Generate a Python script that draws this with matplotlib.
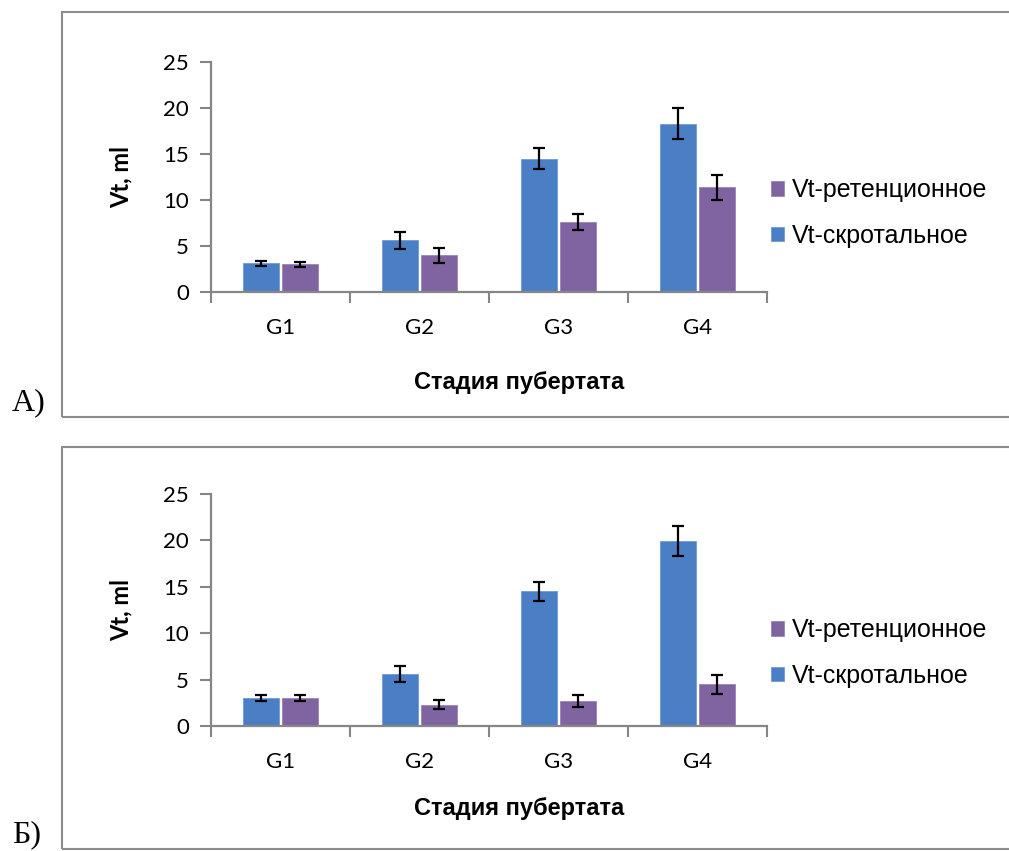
import matplotlib
matplotlib.use("Agg")
import matplotlib.pyplot as plt
from matplotlib.patches import Rectangle
import numpy as np

# ------------------ data ------------------ #
stages = ["G1", "G2", "G3", "G4"]

# panel A
scrotal_a = [3.1, 5.6, 14.5, 18.3]
scrotal_a_err = [0.3, 0.9, 1.1, 1.7]
retent_a = [3.0, 4.0, 7.6, 11.4]
retent_a_err = [0.3, 0.8, 0.9, 1.35]

# panel B
scrotal_b = [3.0, 5.6, 14.5, 19.9]
scrotal_b_err = [0.3, 0.9, 1.05, 1.6]
retent_b = [3.0, 2.3, 2.7, 4.5]
retent_b_err = [0.3, 0.45, 0.6, 1.0]

label_scrotal = "Vt-скротальное"
label_retent = "Vt-ретенционное"

BLUE = "#4a7fc6"
PURPLE = "#8064a2"
AXIS_GRAY = "#868686"

W, H = 1009, 851
fig = plt.figure(figsize=(W / 100, H / 100), dpi=100)


def px(x0, y0, x1, y1):
    # pixel box (top-left origin) -> figure fraction rect
    return [x0 / W, 1 - y1 / H, (x1 - x0) / W, (y1 - y0) / H]


def draw_panel(rect, scrotal, s_err, retent, r_err, frame, letter, xlab_y, leg_y):
    # outer frame of the panel
    fx0, fy0, fy1 = frame
    fig.patches.append(Rectangle((fx0 / W, 1 - fy1 / H), 1.2, (fy1 - fy0) / H,
                                 transform=fig.transFigure, fill=False,
                                 edgecolor="#8c8c8c", linewidth=1.5, clip_on=False))
    fig.text(12 / W, 1 - (fy1 - 14) / H, letter, family="Liberation Serif",
             fontsize=23, ha="left", va="center")

    ax = fig.add_axes(px(*rect))
    x = np.arange(len(stages))
    bw = 0.265
    ax.bar(x - 0.14, scrotal, bw, color=BLUE, edgecolor="#6f9bd6", linewidth=0.6,
           label=label_scrotal, zorder=2)
    ax.bar(x + 0.14, retent, bw, color=PURPLE, edgecolor="#9a83b8", linewidth=0.6,
           label=label_retent, zorder=2)
    ax.errorbar(x - 0.14, scrotal, yerr=s_err, fmt="none", ecolor="black",
                elinewidth=1.6, capsize=4.5, capthick=1.6, zorder=3)
    ax.errorbar(x + 0.14, retent, yerr=r_err, fmt="none", ecolor="black",
                elinewidth=1.6, capsize=4.5, capthick=1.6, zorder=3)

    ax.set_xlim(-0.5, len(stages) - 0.5)
    ax.set_ylim(0, 25)
    ax.set_yticks(range(0, 26, 5))
    ax.set_xticks(x)
    ax.set_xticklabels(stages)
    ax.set_xticks(np.arange(-0.5, len(stages), 1), minor=True)
    ax.tick_params(axis="x", which="major", length=0, pad=19, labelsize=16)
    ax.tick_params(axis="x", which="minor", length=8, width=1.5, color=AXIS_GRAY)
    ax.tick_params(axis="y", length=8, width=1.5, color=AXIS_GRAY, pad=8, labelsize=16)
    for lbl in ax.get_xticklabels() + ax.get_yticklabels():
        lbl.set_family("Lato")
    for side in ("top", "right"):
        ax.spines[side].set_visible(False)
    for side in ("left", "bottom"):
        ax.spines[side].set_color(AXIS_GRAY)
        ax.spines[side].set_linewidth(1.6)

    ax.set_ylabel("Vt, ml", family="Lato", fontweight="bold", fontsize=17, labelpad=22)
    fig.text(519 / W, 1 - xlab_y / H, "Стадия пубертата", family="Liberation Sans",
             fontweight="bold", fontsize=17, ha="center", va="center")

    h, l = ax.get_legend_handles_labels()
    ax.legend(h[::-1], l[::-1], loc="center left",
              bbox_to_anchor=(761 / W, 1 - leg_y / H), bbox_transform=fig.transFigure,
              frameon=False, prop={"family": "Liberation Sans", "size": 18},
              handlelength=0.5, handleheight=0.5, handletextpad=0.35,
              labelspacing=0.85, borderaxespad=0)
    return ax


draw_panel((211, 62, 767, 292), scrotal_a, scrotal_a_err, retent_a, retent_a_err,
           (62, 12, 417), "А)", 383, 213)
draw_panel((211, 494, 767, 726), scrotal_b, scrotal_b_err, retent_b, retent_b_err,
           (62, 447, 849), "Б)", 809, 653)

fig.savefig("out.png", dpi=100)
